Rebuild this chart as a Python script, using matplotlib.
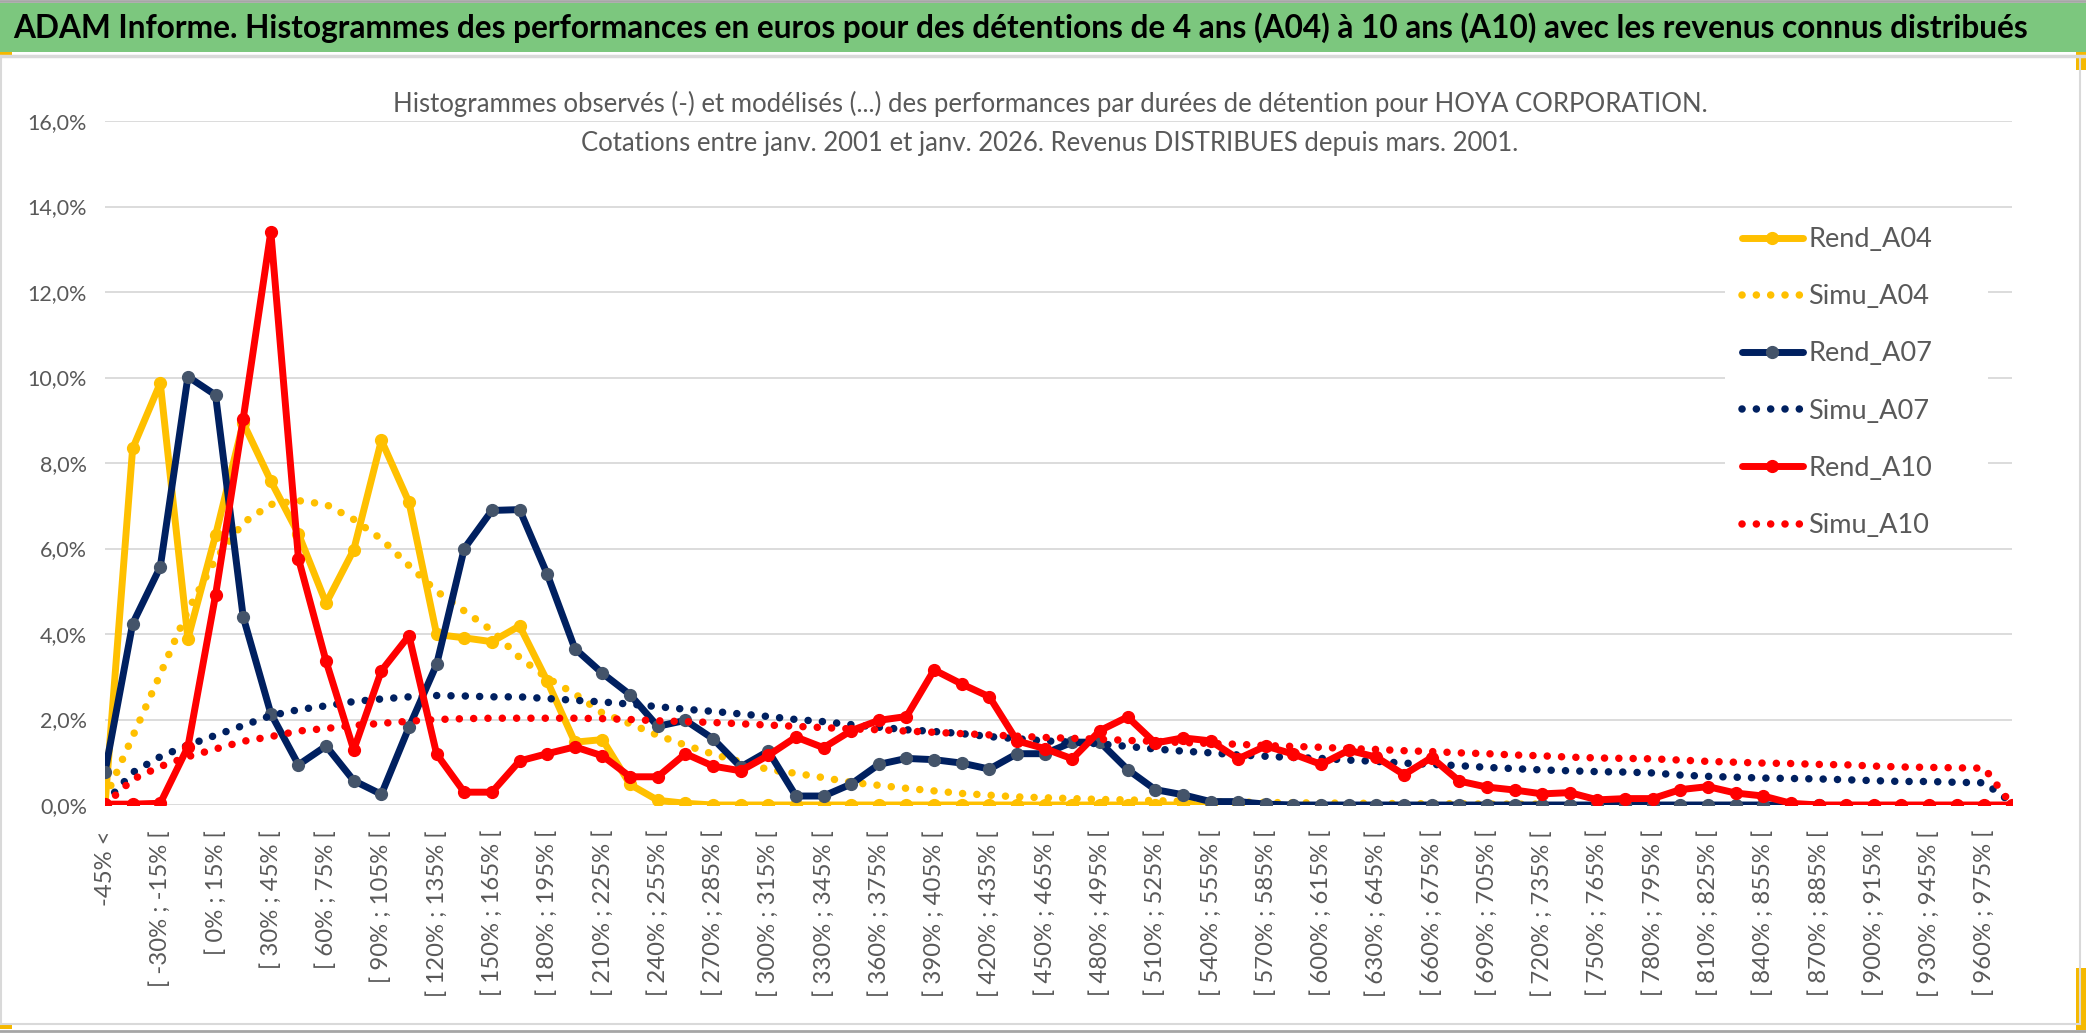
import numpy as np
import matplotlib.pyplot as plt
from matplotlib import font_manager
from matplotlib.patches import Rectangle
from matplotlib.lines import Line2D
from matplotlib.ticker import FuncFormatter

# pick a narrow font close to the Excel look (Calibri, squeezed)
names = {f.name for f in font_manager.fontManager.ttflist}
font = 'Liberation Sans Narrow' if 'Liberation Sans Narrow' in names else 'Lato'
plt.rcParams['font.family'] = [font, 'DejaVu Sans']

# categories: -45% < , then 15% bins up to 990%
categories = ['-45% <'] + ['[ %d%% ; %d%% [' % (a, a + 15) for a in range(-45, 990, 15)]
n = len(categories)  # 70

# values in % (series stop where the Excel series stop)
rend_a04 = [0.0, 8.34, 9.87, 3.89, 6.31, 8.94, 7.58, 6.34, 4.72, 5.97, 8.53, 7.08, 3.99, 3.91,
            3.82, 4.19, 2.9, 1.47, 1.53, 0.48, 0.11, 0.04] + [0.0] * 20
simu_a04 = [0.15, 1.6, 3.06, 4.55, 5.75, 6.6, 7.03, 7.12, 7.03, 6.68, 6.22, 5.6, 5.0, 4.54,
            4.08, 3.45, 2.97, 2.6, 2.15, 1.9, 1.63, 1.4, 1.19, 1.01, 0.83, 0.74, 0.64, 0.53,
            0.46, 0.39, 0.33, 0.27, 0.23, 0.19, 0.17, 0.15, 0.13, 0.12, 0.1, 0.09, 0.08, 0.07,
            0.06, 0.05, 0.05, 0.04, 0.04, 0.03, 0.03, 0.03, 0.02, 0.02, 0.02]
rend_a07 = [0.77, 4.24, 5.57, 10.02, 9.59, 4.4, 2.14, 0.94, 1.38, 0.57, 0.25, 1.82, 3.29, 6.0,
            6.89, 6.91, 5.4, 3.66, 3.08, 2.58, 1.84, 1.98, 1.55, 0.89, 1.26, 0.21, 0.21, 0.49,
            0.95, 1.09, 1.06, 0.98, 0.84, 1.2, 1.2, 1.47, 1.47, 0.83, 0.36, 0.24, 0.08, 0.08,
            0.02] + [0.0] * 20
simu_a07 = [0.05, 0.76, 1.13, 1.4, 1.63, 1.86, 2.09, 2.23, 2.32, 2.42, 2.48, 2.53, 2.56, 2.55,
            2.53, 2.53, 2.49, 2.45, 2.41, 2.36, 2.3, 2.24, 2.19, 2.13, 2.07, 2.0, 1.95, 1.88,
            1.82, 1.76, 1.72, 1.67, 1.6, 1.55, 1.5, 1.47, 1.43, 1.37, 1.31, 1.26, 1.22, 1.17,
            1.14, 1.11, 1.09, 1.05, 1.02, 0.98, 0.95, 0.92, 0.88, 0.85, 0.82, 0.8, 0.78, 0.77,
            0.75, 0.7, 0.67, 0.65, 0.63, 0.62, 0.61, 0.59, 0.57, 0.55, 0.55, 0.53, 0.52, 0.05]
rend_a10 = [0.02, 0.02, 0.04, 1.36, 4.91, 9.03, 13.41, 5.76, 3.36, 1.29, 3.14, 3.96, 1.19, 0.3,
            0.3, 1.03, 1.2, 1.36, 1.15, 0.66, 0.66, 1.2, 0.91, 0.8, 1.16, 1.59, 1.34, 1.74,
            1.98, 2.07, 3.16, 2.83, 2.53, 1.5, 1.32, 1.08, 1.74, 2.06, 1.45, 1.57, 1.5, 1.08,
            1.38, 1.19, 0.95, 1.28, 1.12, 0.71, 1.11, 0.56, 0.42, 0.35, 0.26, 0.29, 0.12, 0.15,
            0.15, 0.36, 0.43, 0.28, 0.21, 0.04, 0.0, 0.0, 0.0, 0.0, 0.0, 0.0, 0.0, 0.0]
simu_a10 = [0.0, 0.6, 0.9, 1.13, 1.31, 1.49, 1.6, 1.73, 1.79, 1.86, 1.91, 1.96, 2.0, 2.02, 2.03,
            2.03, 2.03, 2.03, 2.02, 2.0, 1.97, 1.95, 1.93, 1.9, 1.87, 1.84, 1.81, 1.78, 1.76,
            1.73, 1.7, 1.67, 1.64, 1.61, 1.58, 1.56, 1.54, 1.51, 1.49, 1.46, 1.44, 1.42, 1.39,
            1.37, 1.35, 1.32, 1.3, 1.27, 1.25, 1.22, 1.2, 1.17, 1.15, 1.12, 1.1, 1.09, 1.08,
            1.05, 1.02, 1.0, 0.98, 0.97, 0.95, 0.94, 0.91, 0.89, 0.88, 0.87, 0.86, 0.0]


def pad(vals):
    out = np.full(n, np.nan)
    out[:len(vals)] = vals
    return out


W, H = 2086, 1033
fig = plt.figure(figsize=(W / 100, H / 100), dpi=100)

# green title band and frame
fig.patches.append(Rectangle((0, 1 - 52 / H), 1, 49 / H, transform=fig.transFigure,
                             facecolor='#7cc77e', edgecolor='none'))
for (x0, y0, x1, y1, c, w) in [(0, 1, W, 1, '#a6a6a6', 2), (0, 56, W, 56, '#d9d9d9', 2.5),
                                (1, 56, 1, 1024, '#d9d9d9', 1.5), (2080, 56, 2080, 1024, '#d9d9d9', 1.5),
                                (0, 1024, 2080, 1024, '#d9d9d9', 1.5), (0, 1031, W, 1031, '#a6a6a6', 2)]:
    fig.add_artist(Line2D([x0 / W, x1 / W], [1 - y0 / H, 1 - y1 / H], color=c, lw=w,
                          transform=fig.transFigure))
# small selection handles at the corners of the chart area
for (x0, y0, w, h) in [(0, 52, 12, 5), (2076, 52, 10, 18), (0, 1023, 12, 6), (2076, 968, 10, 62)]:
    fig.patches.append(Rectangle((x0 / W, 1 - (y0 + h) / H), w / W, h / H, transform=fig.transFigure,
                                 facecolor='#f5b800', edgecolor='none'))

fig.text(13 / W, 1 - 28 / H,
         "ADAM Informe. Histogrammes des performances en euros pour des détentions de 4 ans (A04) "
         "à 10 ans (A10) avec les revenus connus distribués",
         ha='left', va='center', fontsize=22.8, fontweight='bold', color='black')
fig.text(1050 / W, 1 - 104 / H,
         "Histogrammes observés (-) et modélisés (...) des performances par durées de détention "
         "pour HOYA CORPORATION.",
         ha='center', va='center', fontsize=18.5, color='#595959')
fig.text(1050 / W, 1 - 144 / H,
         "Cotations entre janv. 2001 et janv. 2026. Revenus DISTRIBUES depuis mars. 2001.",
         ha='center', va='center', fontsize=18.5, color='#595959')

ax = fig.add_axes([105 / W, (H - 805) / H, (2012 - 105) / W, (805 - 121) / H])
x = np.arange(n)

dots = (0, (0.01, 1.9))
ax.plot(x, pad(rend_a04), color='#FFC000', lw=5, marker='o', ms=8.5,
        solid_capstyle='round', solid_joinstyle='round', label='Rend_A04')
ax.plot(x, pad(simu_a04), color='#FFC000', lw=5.4, ls=dots, dash_capstyle='round', label='Simu_A04')
ax.plot(x, pad(rend_a07), color='#002060', lw=5, marker='o', ms=8.5, mfc='#44546A', mec='#44546A',
        solid_capstyle='round', solid_joinstyle='round', label='Rend_A07')
ax.plot(x, pad(simu_a07), color='#002060', lw=5.4, ls=dots, dash_capstyle='round', label='Simu_A07')
ax.plot(x, pad(rend_a10), color='#FF0000', lw=5, marker='o', ms=8.5,
        solid_capstyle='round', solid_joinstyle='round', label='Rend_A10')
ax.plot(x, pad(simu_a10), color='#FF0000', lw=5.4, ls=dots, dash_capstyle='round', label='Simu_A10')

ax.set_xlim(0, n - 1)
ax.set_ylim(0, 16)
ax.set_yticks(np.arange(0, 17, 2))
ax.yaxis.set_major_formatter(FuncFormatter(lambda v, _: ('%.1f%%' % v).replace('.', ',')))
ax.set_xticks(x[::2])
ax.set_xticklabels(categories[::2], rotation=90, ha='center', va='top')
ax.set_xticks(x[::4], minor=True)
ax.tick_params(axis='x', which='major', length=0, pad=18, labelsize=17.2, labelcolor='#595959')
ax.tick_params(axis='x', which='minor', length=6, width=1.2, color='#d9d9d9')
ax.tick_params(axis='y', length=0, pad=13, labelsize=15.5, labelcolor='#595959')
ax.grid(axis='y', color='#d9d9d9', lw=1.3)
ax.grid(axis='x', which='minor', color='#d9d9d9', lw=1.3)
ax.set_axisbelow(True)
for s in ax.spines.values():
    s.set_visible(False)

# white legend box hiding the gridlines
ax.add_patch(Rectangle((1725 / W, 1 - 548 / H), (1988 - 1725) / W, (548 - 208) / H,
                       transform=fig.transFigure, facecolor='white', edgecolor='none', zorder=1))
ax.legend(loc='upper left', bbox_to_anchor=(1742 / W, 1 - 227 / H), bbox_transform=fig.transFigure,
          frameon=False, fontsize=19.5, labelcolor='#595959', handlelength=2.25, handletextpad=0.2,
          labelspacing=1.19, borderpad=0, borderaxespad=0)

plt.savefig('out.png', dpi=100)
